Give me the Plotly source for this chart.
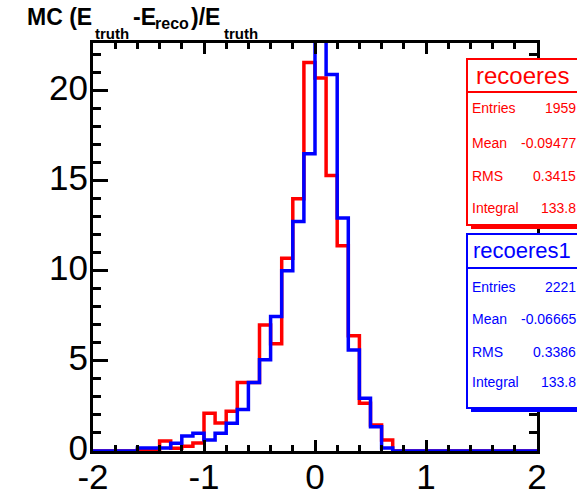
import numpy as np
import plotly.graph_objects as go

# ---- histogram binning ----
bin_low, bin_high, n_bins = -2.0, 2.0, 40
edges = np.round(np.linspace(bin_low, bin_high, n_bins + 1), 3)

# bin contents, (E_truth - E_reco)/E_truth, 0.1 wide bins from -2 to 2
recoeres = [0, 0, 0, 0, 0.05, 0.05, 0.55, 0.15, 0.26, 0.45,
            2.1, 1.55, 2.2, 3.8, 3.8, 7.0, 5.95, 10.7, 14.0, 21.57,
            20.7, 15.3, 11.4, 6.4, 2.65, 1.44, 0.61, 0, 0, 0,
            0, 0, 0, 0, 0, 0, 0, 0, 0, 0]
recoeres1 = [0, 0, 0, 0, 0.16, 0.16, 0.16, 0.43, 0.83, 0.98,
             0.61, 0.98, 1.54, 2.3, 3.8, 5.06, 7.46, 10.0, 12.74, 16.5,
             25.5, 20.9, 12.93, 5.61, 2.93, 1.35, 0.17, 0, 0, 0,
             0, 0, 0, 0, 0, 0, 0, 0, 0, 0]

# statistics boxes
stat_labels = ["Entries", "Mean", "RMS", "Integral"]
stats_red = ["1959", "-0.09477", "0.3415", "133.8"]
stats_blue = ["2221", "-0.06665", "0.3386", "133.8"]

# tick labels
x_tickvals = [-2, -1, 0, 1, 2]
x_ticktext = ["-2", "-1", "0", "1", "2"]
y_tickvals = [0, 5, 10, 15, 20]
y_ticktext = ["0", "5", "10", "15", "20"]

RED = "#ff0000"
BLUE = "#0000ff"
FONT = "Liberation Sans"

# ---- page geometry (pixels) ----
W, H = 577, 494
L, R, T, B = 93, 40, 43, 43
pw, ph = W - L - R, H - T - B


def px(x):
    return (x - L) / pw


def py(y):
    return (H - B - y) / ph


ymax = 1.05 * max(recoeres)


def step_trace(vals, color):
    return go.Scatter(
        x=edges, y=list(vals) + [vals[-1]], mode="lines",
        line=dict(color=color, width=3.5, shape="hv"),
        hoverinfo="skip", showlegend=False)


fig = go.Figure()
fig.add_trace(step_trace(recoeres, RED))
fig.add_trace(step_trace(recoeres1, BLUE))

shapes = []
annotations = []


def stat_box(x0, y0, ysep, y1, color, title, tsize, tcy, rows_y, values):
    x1 = 579
    shapes.append(dict(type="rect", xref="paper", yref="paper",
                       x0=px(x0 + 4), x1=px(x1 + 4), y0=py(y0 + 4), y1=py(y1 + 4),
                       fillcolor=color, line=dict(width=0), layer="above"))
    shapes.append(dict(type="rect", xref="paper", yref="paper",
                       x0=px(x0), x1=px(x1), y0=py(y0), y1=py(y1),
                       fillcolor="white", line=dict(color=color, width=2), layer="above"))
    shapes.append(dict(type="line", xref="paper", yref="paper",
                       x0=px(x0), x1=px(x1), y0=py(ysep), y1=py(ysep),
                       line=dict(color=color, width=2), layer="above"))
    annotations.append(dict(xref="paper", yref="paper", x=px((x0 + 577) / 2), y=py(tcy),
                            text=title, showarrow=False, xanchor="center", yanchor="middle",
                            font=dict(family=FONT, size=tsize, color=color)))
    for lab, val, yy in zip(stat_labels, values, rows_y):
        annotations.append(dict(xref="paper", yref="paper", x=px(x0 + 3), y=py(yy),
                                text=lab, showarrow=False, xanchor="left", yanchor="middle",
                                font=dict(family=FONT, size=14, color=color)))
        annotations.append(dict(xref="paper", yref="paper", x=px(578), y=py(yy),
                                text=val, showarrow=False, xanchor="right", yanchor="middle",
                                font=dict(family=FONT, size=14, color=color)))


stat_box(467, 59, 92, 225, RED, "recoeres", 24, 75, [108, 143, 176.5, 208], stats_red)
stat_box(467, 234, 268, 408, BLUE, "recoeres1", 22, 250, [286.5, 318.5, 351.5, 381.5], stats_blue)

# axis title built from pieces (main text and subscripts)
title_parts = [
    ("MC (E", 23, 25, 16.5),
    ("truth", 15, 93, 33.5),
    ("-E", 23, 131, 16.5),
    ("reco", 16, 153, 24),
    (")/E", 23, 189, 16.5),
    ("truth", 15, 222, 33.5),
]
for txt, size, xl, yc in title_parts:
    annotations.append(dict(xref="paper", yref="paper", x=px(xl), y=py(yc), text=txt,
                            showarrow=False, xanchor="left", yanchor="middle",
                            font=dict(family=FONT, size=size, color="black", weight="bold")))

axis_common = dict(showline=True, linecolor="black", linewidth=3, mirror="allticks",
                   ticks="inside", tickcolor="black", tickwidth=2.5,
                   showgrid=False, zeroline=False, automargin=False,
                   tickfont=dict(family=FONT, size=35, color="black"))

fig.update_layout(
    width=W, height=H, margin=dict(l=L, r=R, t=T, b=B, autoexpand=False),
    paper_bgcolor="white", plot_bgcolor="white",
    xaxis=dict(range=[bin_low, bin_high], tickmode="array", tickvals=x_tickvals,
               ticktext=x_ticktext, ticklen=11, ticklabelstandoff=-7,
               minor=dict(tickmode="linear", tick0=0, dtick=0.2, ticks="inside",
                          ticklen=6, tickwidth=2.5, tickcolor="black"),
               **axis_common),
    yaxis=dict(range=[0, ymax], tickmode="array", tickvals=y_tickvals,
               ticktext=y_ticktext, ticklen=15, ticklabelstandoff=-5, ticklabelshift=-3,
               minor=dict(tickmode="linear", tick0=0, dtick=1, ticks="inside",
                          ticklen=8, tickwidth=2.5, tickcolor="black"),
               **axis_common),
    shapes=shapes, annotations=annotations,
)

fig.write_html("out.html")
